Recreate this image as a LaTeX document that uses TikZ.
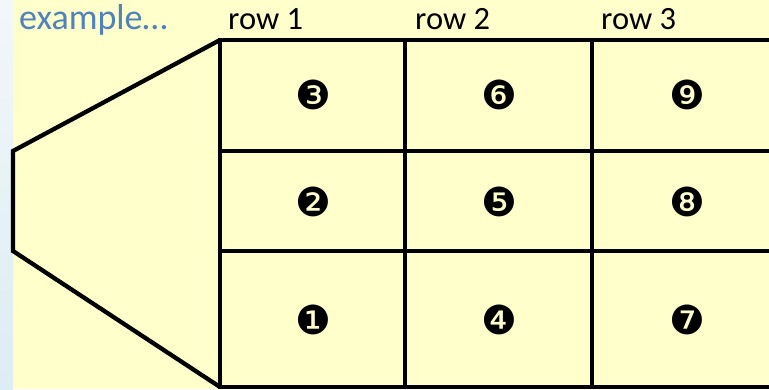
\documentclass[tikz,border=0pt]{standalone}
\usepackage{fontspec}
\setmainfont{Carlito}
\newfontfamily\symfont{DejaVu Sans}
\definecolor{bgyellow}{HTML}{FFFFCC}
\definecolor{stripA}{HTML}{F2F7FA}
\definecolor{stripB}{HTML}{DCEDF4}
\definecolor{exblue}{HTML}{4F81BD}
\begin{document}
\begin{tikzpicture}[x=1pt,y=-1pt,
  thickline/.style={line width=4.3pt,line join=miter},
  cellnum/.style={font=\symfont\fontsize{40}{40}\selectfont,inner sep=0pt},
  lbl/.style={font=\fontsize{32.5}{32.5}\selectfont,anchor=base west,inner sep=0pt}]
\useasboundingbox (0,0) rectangle (769,389);
\fill[bgyellow] (0,0) rectangle (769,389);
\shade[top color=stripA,bottom color=stripB] (0,0) rectangle (13,389);
% coordinates
\coordinate (tl) at (220,40);
\coordinate (bl) at (220,387);
\coordinate (pa) at (13,151);
\coordinate (pb) at (13,251);
% left polygon
\draw[thickline] (tl) -- (pa) -- (pb) -- (bl);
% grid
\draw[thickline] (780,40) -- (tl) -- (bl) -- (780,387);
\draw[thickline] (220,151) -- (780,151);
\draw[thickline] (220,251) -- (780,251);
\draw[thickline] (405,40) -- (405,387);
\draw[thickline] (592,40) -- (592,387);
% labels
\node[lbl,text=exblue,font=\fontsize{36}{36}\selectfont] (ex) at (19,29) {example…};
\node[lbl] (r1) at (228,29) {row 1};
\node[lbl] (r2) at (415,29) {row 2};
\node[lbl] (r3) at (601,29) {row 3};
% numbers
\node[cellnum] (n3) at (313,95) {❸};
\node[cellnum] (n6) at (499,95) {❻};
\node[cellnum] (n9) at (687,95) {❾};
\node[cellnum] (n2) at (313,202) {❷};
\node[cellnum] (n5) at (499,202) {❺};
\node[cellnum] (n8) at (687,202) {❽};
\node[cellnum] (n1) at (313,320) {❶};
\node[cellnum] (n4) at (499,320) {❹};
\node[cellnum] (n7) at (687,320) {❼};
\end{tikzpicture}
\end{document}
